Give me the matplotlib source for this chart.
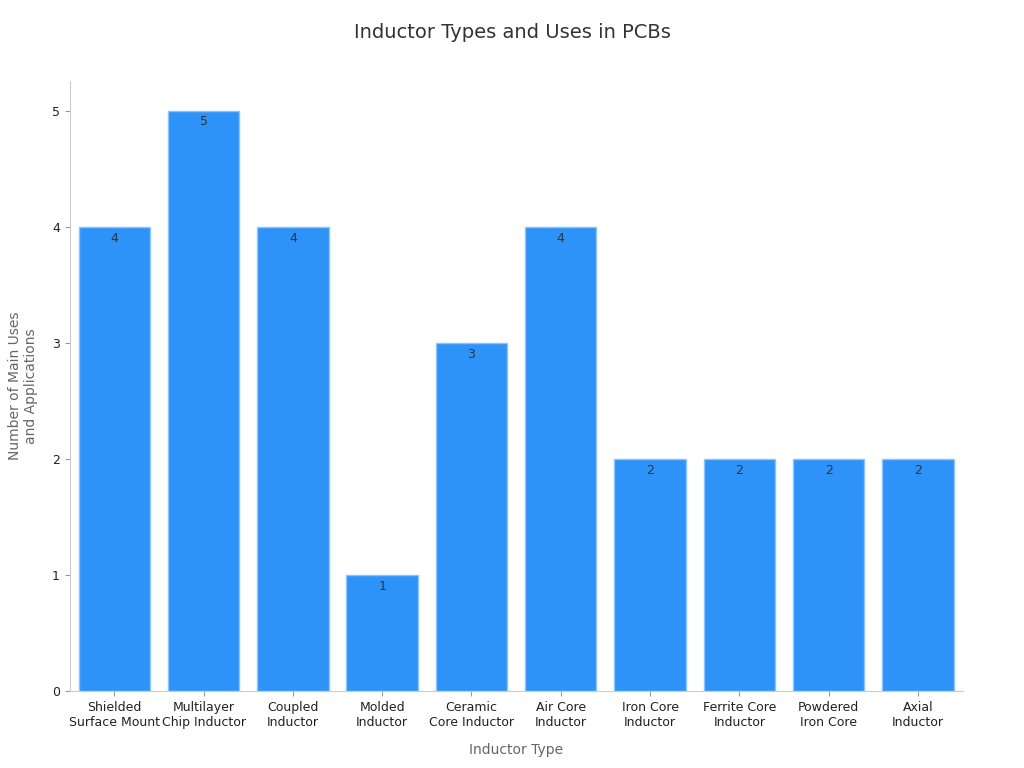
import matplotlib.pyplot as plt

categories = ["Shielded\nSurface Mount", "Multilayer\nChip Inductor", "Coupled\nInductor",
              "Molded\nInductor", "Ceramic\nCore Inductor", "Air Core\nInductor",
              "Iron Core\nInductor", "Ferrite Core\nInductor", "Powdered\nIron Core",
              "Axial\nInductor"]
uses = [4, 5, 4, 1, 3, 4, 2, 2, 2, 2]

fig, ax = plt.subplots(figsize=(10.24, 7.68), dpi=100)
fig.subplots_adjust(left=0.068, right=0.94, top=0.895, bottom=0.1)

x = range(len(categories))
bars = ax.bar(x, uses, width=0.8, color="#2E93F8", edgecolor="#8CC4FA", linewidth=1)
for xi, v in zip(x, uses):
    ax.text(xi, v - 0.04, str(v), ha="center", va="top", fontsize=9, color="#333333")

ax.set_xticks(list(x))
ax.set_xticklabels(categories, fontsize=9, color="#222222")
ax.set_xlim(-0.5, 9.5)
ax.set_ylim(0, 5.26)
ax.set_yticks(range(6))
ax.tick_params(axis="y", labelsize=9, colors="#222222")
ax.tick_params(axis="both", color="#999999")

for s in ["top", "right"]:
    ax.spines[s].set_visible(False)
for s in ["left", "bottom"]:
    ax.spines[s].set_color("#cccccc")

ax.set_xlabel("Inductor Type", fontsize=10, color="#666666", labelpad=10)
ax.set_ylabel("Number of Main Uses\nand Applications", fontsize=10, color="#666666", labelpad=10)
fig.suptitle("Inductor Types and Uses in PCBs", fontsize=14, color="#333333", y=0.97)

plt.savefig("out.png")
